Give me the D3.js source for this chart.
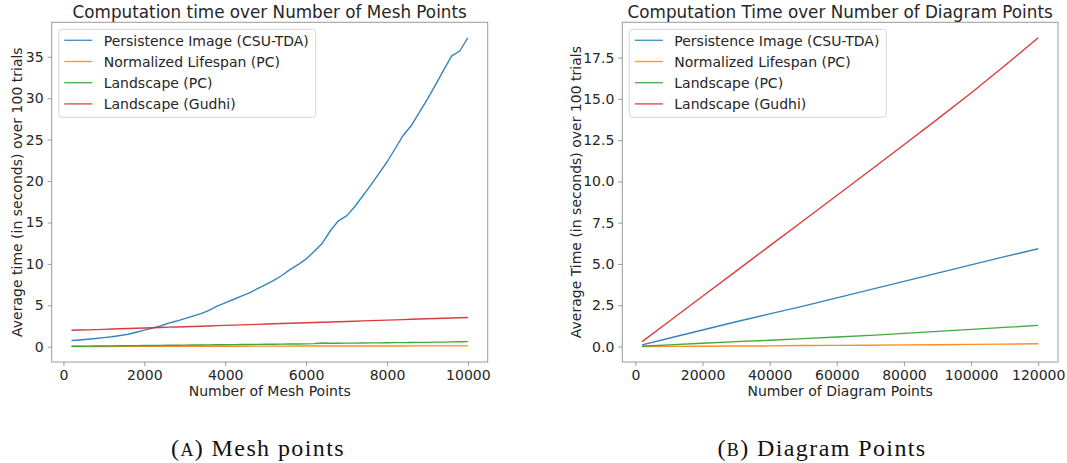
<!DOCTYPE html>
<html>
<head>
<meta charset="utf-8">
<script src="https://cdn.jsdelivr.net/npm/d3@7"></script>
<style>
  body { margin: 0; background: #fff; }
  svg { display: block; }
</style>
</head>
<body>
<div id="chart"></div>
<script>
var seriesNames = ['Persistence Image (CSU-TDA)', 'Normalized Lifespan (PC)', 'Landscape (PC)', 'Landscape (Gudhi)'];
var seriesColors = ['#1f77b4', '#ff7f0e', '#2ca02c', '#d62728'];

// (A) mesh points
var meshX = [200, 400, 600, 800, 1000, 1200, 1400, 1600, 1800, 2000,
    2200, 2400, 2600, 2800, 3000, 3200, 3400, 3600, 3800, 4000,
    4200, 4400, 4600, 4800, 5000, 5200, 5400, 5600, 5800, 6000,
    6200, 6400, 6600, 6800, 7000, 7200, 7400, 7600, 7800, 8000,
    8200, 8400, 8600, 8800, 9000, 9200, 9400, 9600, 9800, 10000];
var meshImage = [0.75, 0.82, 0.9, 1.0, 1.1, 1.2, 1.35, 1.5, 1.75, 2.0,
    2.25, 2.5, 2.85, 3.1, 3.4, 3.7, 4.0, 4.4, 4.9, 5.3,
    5.7, 6.1, 6.5, 7.0, 7.5, 8.0, 8.6, 9.3, 9.9, 10.6,
    11.5, 12.5, 14.0, 15.2, 15.8, 16.9, 18.2, 19.5, 20.9, 22.3,
    23.9, 25.5, 26.7, 28.3, 29.9, 31.6, 33.4, 35.1, 35.7, 37.3];
var meshLifespan = [0.02, 0.02, 0.03, 0.03, 0.03, 0.03, 0.04, 0.04, 0.04, 0.04,
    0.04, 0.05, 0.05, 0.05, 0.05, 0.05, 0.06, 0.06, 0.06, 0.06,
    0.06, 0.06, 0.07, 0.07, 0.07, 0.07, 0.07, 0.07, 0.08, 0.08,
    0.08, 0.08, 0.08, 0.08, 0.08, 0.09, 0.09, 0.09, 0.09, 0.09,
    0.09, 0.09, 0.1, 0.1, 0.1, 0.1, 0.1, 0.1, 0.1, 0.1];
var meshLandscapePC = [0.05, 0.06, 0.07, 0.08, 0.09, 0.1, 0.11, 0.12, 0.13, 0.14,
    0.15, 0.16, 0.17, 0.18, 0.19, 0.2, 0.21, 0.22, 0.23, 0.24,
    0.25, 0.26, 0.27, 0.28, 0.29, 0.3, 0.31, 0.32, 0.33, 0.35,
    0.38, 0.45, 0.42, 0.42, 0.43, 0.44, 0.45, 0.46, 0.47, 0.48,
    0.49, 0.5, 0.51, 0.52, 0.53, 0.55, 0.56, 0.58, 0.6, 0.62];
var meshGudhi = [1.98, 2.01, 2.04, 2.07, 2.1, 2.14, 2.17, 2.2, 2.23, 2.26,
    2.29, 2.32, 2.36, 2.39, 2.42, 2.45, 2.48, 2.51, 2.55, 2.58,
    2.61, 2.64, 2.67, 2.7, 2.74, 2.77, 2.8, 2.83, 2.86, 2.89,
    2.93, 2.96, 2.99, 3.02, 3.05, 3.08, 3.12, 3.15, 3.18, 3.21,
    3.24, 3.27, 3.31, 3.34, 3.37, 3.4, 3.43, 3.46, 3.5, 3.53];
var meshXTicks = [0, 2000, 4000, 6000, 8000, 10000];
var meshYTicks = [0, 5, 10, 15, 20, 25, 30, 35];

// (B) diagram points
var diagX = [2000, 10000, 20000, 30000, 40000, 50000, 60000, 70000, 80000, 90000, 100000, 110000, 120000];
var diagImage = [0.1, 0.5, 1.0, 1.5, 1.98, 2.45, 2.95, 3.45, 3.95, 4.45, 4.95, 5.45, 5.92];
var diagLifespan = [0.0, 0.01, 0.02, 0.03, 0.04, 0.06, 0.07, 0.08, 0.1, 0.11, 0.13, 0.15, 0.17];
var diagLandscapePC = [0.02, 0.1, 0.2, 0.3, 0.38, 0.48, 0.58, 0.68, 0.8, 0.92, 1.04, 1.16, 1.28];
var diagGudhi = [0.3, 1.52, 3.05, 4.57, 6.1, 7.62, 9.15, 10.68, 12.22, 13.77, 15.35, 17.0, 18.7];
var diagXTicks = [0, 20000, 40000, 60000, 80000, 100000, 120000];
var diagYTicks = [0, 2.5, 5, 7.5, 10, 12.5, 15, 17.5];

(function(){

    var width = 1067;
    var height = 463;

    var svg = d3.select("#chart")
        .append("svg")
            .attr("width", width)
            .attr("height", height);

    var font = "'DejaVu Sans', sans-serif";
    var textColor = "#262626";
    var frameColor = "#9a9a9a";

    function padded(ext) {
        var m = (ext[1] - ext[0]) * 0.05;
        return [ext[0] - m, ext[1] + m];
    }

    function drawPanel(p) {
        var g = svg.append("g");

        var allY = d3.merge(p.series);
        var x = d3.scaleLinear()
            .domain(padded(d3.extent(p.x)))
            .range([p.left, p.right]);
        var y = d3.scaleLinear()
            .domain(padded(d3.extent(allY)))
            .range([p.bottom, p.top]);

        // lines
        var line = d3.line()
            .x(function(d) { return x(d[0]); })
            .y(function(d) { return y(d[1]); });

        p.series.forEach(function(s, i) {
            g.append("path")
                .datum(p.x.map(function(v, j) { return [v, s[j]]; }))
                .attr("d", line)
                .attr("fill", "none")
                .attr("stroke", seriesColors[i])
                .attr("stroke-opacity", 0.9)
                .attr("stroke-width", 1.4)
                .attr("stroke-linejoin", "round");
        });

        // frame
        g.append("rect")
            .attr("x", p.left)
            .attr("y", p.top)
            .attr("width", p.right - p.left)
            .attr("height", p.bottom - p.top)
            .attr("fill", "none")
            .attr("stroke", frameColor)
            .attr("stroke-width", 1);

        // axes
        var xAxis = d3.axisBottom(x)
            .tickValues(p.xTicks)
            .tickFormat(d3.format("d"))
            .tickSizeOuter(0)
            .tickSize(4)
            .tickPadding(4);
        var gx = g.append("g")
            .attr("transform", "translate(0," + p.bottom + ")")
            .call(xAxis);

        var yAxis = d3.axisLeft(y)
            .tickValues(p.yTicks)
            .tickFormat(d3.format(p.yFormat))
            .tickSizeOuter(0)
            .tickSize(4)
            .tickPadding(4);
        var gy = g.append("g")
            .attr("transform", "translate(" + p.left + ",0)")
            .call(yAxis);

        [gx, gy].forEach(function(a) {
            a.select(".domain").remove();
            a.selectAll("line").attr("stroke", frameColor);
            a.selectAll("text")
                .attr("fill", textColor)
                .style("font-family", font)
                .style("font-size", "14px");
        });

        // title
        g.append("text")
            .attr("x", (p.left + p.right) / 2)
            .attr("y", 17.5)
            .attr("text-anchor", "middle")
            .attr("fill", textColor)
            .style("font-family", font)
            .style("font-size", "16.8px")
            .text(p.title);

        // axis labels
        g.append("text")
            .attr("x", (p.left + p.right) / 2)
            .attr("y", 395.5)
            .attr("text-anchor", "middle")
            .attr("fill", textColor)
            .style("font-family", font)
            .style("font-size", "14px")
            .text(p.xLabel);

        g.append("text")
            .attr("transform", "translate(" + p.yLabelX + "," + (p.top + p.bottom) / 2 + ") rotate(-90)")
            .attr("text-anchor", "middle")
            .attr("fill", textColor)
            .style("font-family", font)
            .style("font-size", "14px")
            .text(p.yLabel);

        // legend
        var lx = p.left + 7;
        var ly = p.top + 7;
        var legend = g.append("g")
            .attr("transform", "translate(" + lx + "," + ly + ")");

        legend.append("rect")
            .attr("x", 0)
            .attr("y", 0)
            .attr("width", 257)
            .attr("height", 88)
            .attr("rx", 3)
            .attr("fill", "#fff")
            .attr("fill-opacity", 0.8)
            .attr("stroke", "#d6d6d6")
            .attr("stroke-width", 1);

        var item = legend.selectAll("g.item")
            .data(seriesNames)
            .enter()
            .append("g")
                .attr("class", "item")
                .attr("transform", function(d, i) { return "translate(0," + (11 + i * 21.2) + ")"; });

        item.append("line")
            .attr("x1", 5.6)
            .attr("x2", 33.6)
            .attr("stroke", function(d, i) { return seriesColors[i]; })
            .attr("stroke-opacity", 0.8)
            .attr("stroke-width", 1.4);

        item.append("text")
            .attr("x", 45)
            .attr("y", 5.2)
            .attr("fill", textColor)
            .style("font-family", font)
            .style("font-size", "14px")
            .text(function(d) { return d; });

        // caption
        var cap = g.append("text")
            .attr("x", p.captionX)
            .attr("y", 456)
            .attr("text-anchor", "middle")
            .attr("fill", "#111")
            .style("font-family", "'Liberation Serif', serif")
            .style("font-size", "24px")
            .style("letter-spacing", "1.4px");
        cap.append("tspan").text("(");
        cap.append("tspan").style("font-size", "18px").text(p.captionLetter);
        cap.append("tspan").text(") " + p.caption);
    }

    drawPanel({
        left: 51.7, right: 487.7, top: 22.3, bottom: 362,
        x: meshX,
        series: [meshImage, meshLifespan, meshLandscapePC, meshGudhi],
        xTicks: meshXTicks, yTicks: meshYTicks, yFormat: "d",
        title: "Computation time over Number of Mesh Points",
        xLabel: "Number of Mesh Points",
        yLabel: "Average time (in seconds) over 100 trials",
        yLabelX: 21.5,
        captionX: 258, captionLetter: "A", caption: "Mesh points"
    });

    drawPanel({
        left: 622.3, right: 1058, top: 22.3, bottom: 362,
        x: diagX,
        series: [diagImage, diagLifespan, diagLandscapePC, diagGudhi],
        xTicks: diagXTicks, yTicks: diagYTicks, yFormat: ".1f",
        title: "Computation Time over Number of Diagram Points",
        xLabel: "Number of Diagram Points",
        yLabel: "Average Time (in seconds) over 100 trials",
        yLabelX: 580.5,
        captionX: 822, captionLetter: "B", caption: "Diagram Points"
    });

})();
</script>
</body>
</html>
